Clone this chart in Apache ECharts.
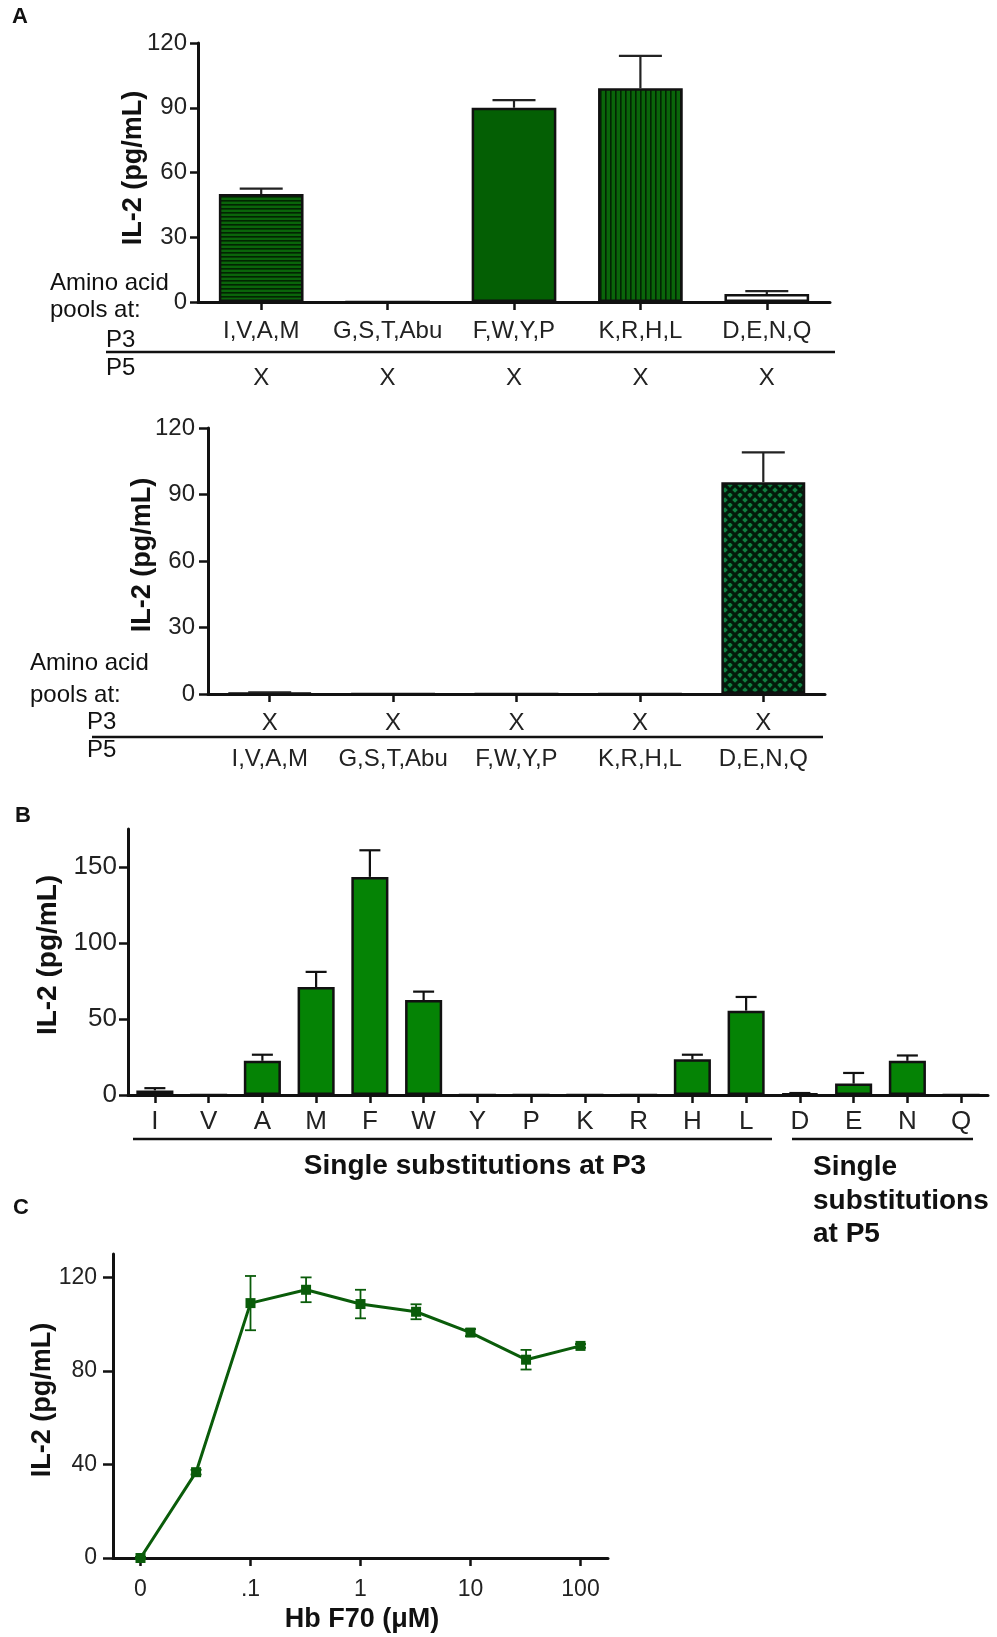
<!DOCTYPE html>
<html><head><meta charset="utf-8">
<script src="https://cdn.jsdelivr.net/npm/echarts@6/dist/echarts.min.js"></script>
<style>html,body{margin:0;padding:0;background:#fff}#c{width:997px;height:1637px}</style>
</head><body><div id="c"></div>
<script>
// ---------- DATA ----------
const aPoolLabels = ['I,V,A,M', 'G,S,T,Abu', 'F,W,Y,P', 'K,R,H,L', 'D,E,N,Q'];
const aXMarks = ['X', 'X', 'X', 'X', 'X'];
const aTopValues = [50, 0, 90, 99, 3.7];
const aTopErrors = [2.5, 0, 3.5, 15, 1.3];
const aBottomValues = [0.5, 0, 0, 0, 95.5];
const aBottomErrors = [0.3, 0, 0, 0, 13.5];
const aYTicks = [0, 30, 60, 90, 120];

const bCategories = ['I', 'V', 'A', 'M', 'F', 'W', 'Y', 'P', 'K', 'R', 'H', 'L', 'D', 'E', 'N', 'Q'];
const bValues = [3, 0, 22.5, 71, 143.5, 62.5, 0, 0, 0, 0, 23.5, 55.5, 1, 7.5, 22.5, 0];
const bErrors = [1.5, 0, 4, 10, 17.5, 5.5, 0, 0, 0, 0, 3, 9, 0.3, 7, 3.5, 0];
const bYTicks = [0, 50, 100, 150];

const cConcentrations = [0, 0.032, 0.1, 0.32, 1, 3.2, 10, 32, 100];
const cValues = [0, 36.7, 109, 114.7, 108.6, 105.3, 96.4, 84.8, 90.7];
const cErrors = [0.5, 1, 11.6, 5.3, 6.1, 3.2, 1.5, 4.2, 0.8];
const cTickConcentrations = [0, 0.1, 1, 10, 100];
const cTickLabels = ['0', '.1', '1', '10', '100'];
const cYTicks = [0, 40, 80, 120];

// ---------- STYLE HELPERS ----------
const FONT = '"Liberation Sans", Arial, Helvetica, sans-serif';
const INK = '#111';
function makePattern(w, h, draw) {
  const c = document.createElement('canvas'); c.width = w; c.height = h;
  const g = c.getContext('2d'); draw(g, w, h);
  return { image: c, repeat: 'repeat' };
}
const hStripe = makePattern(8, 4, (g, w, h) => { g.fillStyle = '#0a650a'; g.fillRect(0, 0, w, h); g.fillStyle = '#022402'; g.fillRect(0, 0, w, 1.6); });
const vStripe = makePattern(5, 8, (g, w, h) => { g.fillStyle = '#0a650a'; g.fillRect(0, 0, w, h); g.fillStyle = '#022402'; g.fillRect(0, 0, 1.6, h); });
const crossHatch = makePattern(10, 10, (g, w, h) => {
  g.fillStyle = '#108040'; g.fillRect(0, 0, w, h);
  g.strokeStyle = '#031a0a'; g.lineWidth = 3.2;
  for (let k = -2; k <= 2; k++) {
    g.beginPath(); g.moveTo(k * 10, 0); g.lineTo(k * 10 + 10, 10); g.stroke();
    g.beginPath(); g.moveTo(k * 10 + 10, 0); g.lineTo(k * 10, 10); g.stroke();
  }
});
const solidDark = '#045f04';
const bGreen = '#058305';
const cGreen = '#0a5c0a';
const barBorder = { borderColor: INK, borderWidth: 2.5 };
const aTopStyles = [
  Object.assign({ color: hStripe }, barBorder),
  Object.assign({ color: solidDark }, barBorder),
  Object.assign({ color: solidDark }, barBorder),
  Object.assign({ color: vStripe }, barBorder),
  Object.assign({ color: '#ffffff' }, barBorder)
];
const aBottomStyles = [
  Object.assign({ color: crossHatch }, barBorder),
  Object.assign({ color: crossHatch }, barBorder),
  Object.assign({ color: crossHatch }, barBorder),
  Object.assign({ color: crossHatch }, barBorder),
  Object.assign({ color: crossHatch }, barBorder)
];

function logPos(c) { return c === 0 ? -2 : Math.log10(c); }

function errSeries(xi, yi, xs, vals, errs, cap, color, lw, both) {
  return {
    type: 'custom', xAxisIndex: xi, yAxisIndex: yi, z: 6, silent: true,
    data: vals.map((v, i) => [xs[i], v, errs[i]]),
    renderItem: function (params, api) {
      const x = api.value(0), v = api.value(1), e = api.value(2);
      if (!(e > 0)) return { type: 'group', children: [] };
      const p0 = api.coord([x, both ? v - e : v]);
      const p1 = api.coord([x, v + e]);
      const st = { stroke: color, lineWidth: lw };
      const ch = [
        { type: 'line', shape: { x1: p0[0], y1: p0[1], x2: p1[0], y2: p1[1] }, style: st },
        { type: 'line', shape: { x1: p1[0] - cap / 2, y1: p1[1], x2: p1[0] + cap / 2, y2: p1[1] }, style: st }
      ];
      if (both) ch.push({ type: 'line', shape: { x1: p0[0] - cap / 2, y1: p0[1], x2: p0[0] + cap / 2, y2: p0[1] }, style: st });
      return { type: 'group', children: ch };
    }
  };
}

function catAxis(grid, data, fs, margin, extra) {
  return Object.assign({
    type: 'category', gridIndex: grid, data: data, position: 'bottom', dedplication: false,
    axisLine: { show: true, onZero: false, lineStyle: { color: INK, width: 3 } },
    axisTick: { show: true, alignWithLabel: true, length: 8, lineStyle: { color: INK, width: 2.5 } },
    axisLabel: { interval: 0, margin: margin, fontSize: fs, fontFamily: FONT, color: '#222' },
    splitLine: { show: false }
  }, extra || {});
}
function labelOnlyAxis(grid, data, fs, offset, margin) {
  return {
    type: 'category', gridIndex: grid, data: data, position: 'bottom', offset: offset, dedplication: false,
    axisLine: { show: false, onZero: false }, axisTick: { show: false }, splitLine: { show: false },
    axisLabel: { interval: 0, margin: margin, fontSize: fs, fontFamily: FONT, color: '#222' }
  };
}
function valAxis(grid, max, ticks, fs, margin, tickLen) {
  return {
    type: 'value', gridIndex: grid, min: 0, max: max, position: 'left',
    axisLine: { show: true, onZero: false, lineStyle: { color: INK, width: 3 } },
    axisTick: { show: true, length: tickLen, customValues: ticks, lineStyle: { color: INK, width: 2.5 } },
    axisLabel: { margin: margin, fontSize: fs, fontFamily: FONT, color: '#222', customValues: ticks },
    splitLine: { show: false }
  };
}

function txt(x, y, text, size, bold, align, rot) {
  return {
    type: 'text', x: x, y: y, rotation: rot || 0, z: 10, silent: true,
    style: {
      text: text, font: (bold ? 'bold ' : '') + size + 'px ' + FONT, fill: INK,
      align: align || 'left', textAlign: align || 'left', verticalAlign: 'middle', textVerticalAlign: 'middle'
    }
  };
}
function hline(x1, x2, y) {
  return { type: 'line', z: 10, silent: true, shape: { x1: x1, y1: y, x2: x2, y2: y }, style: { stroke: INK, lineWidth: 2.5 } };
}

const idx5 = [0, 1, 2, 3, 4];
const idx16 = bCategories.map((c, i) => i);
const cX = cConcentrations.map(logPos);
const cTickPos = cTickConcentrations.map(logPos);

const option = {
  animation: false,
  backgroundColor: '#fff',
  grid: [
    { left: 198, top: 43, width: 632, height: 259 },
    { left: 208, top: 428, width: 617, height: 266 },
    { left: 128, top: 829, width: 860, height: 266 },
    { left: 113, top: 1254, width: 495, height: 304 }
  ],
  xAxis: [
    catAxis(0, aPoolLabels, 24, 17),
    labelOnlyAxis(0, aXMarks, 24, 55, 9),
    catAxis(1, aXMarks, 24, 17),
    labelOnlyAxis(1, aPoolLabels, 24, 50, 3),
    catAxis(2, bCategories, 26, 14),
    {
      type: 'value', gridIndex: 3, min: -2.25, max: 2.25, position: 'bottom',
      axisLine: { show: true, onZero: false, lineStyle: { color: INK, width: 3 } },
      axisTick: { show: true, length: 8, customValues: cTickPos, lineStyle: { color: INK, width: 2.5 } },
      axisLabel: {
        margin: 20, fontSize: 23, fontFamily: FONT, color: '#222', customValues: cTickPos,
        formatter: function (v) {
          let best = 0;
          cTickPos.forEach((p, i) => { if (Math.abs(p - v) < Math.abs(cTickPos[best] - v)) best = i; });
          return cTickLabels[best];
        }
      },
      splitLine: { show: false }
    }
  ],
  yAxis: [
    valAxis(0, 120, aYTicks, 24, 11, 8),
    valAxis(1, 120, aYTicks, 24, 13, 9),
    valAxis(2, 175, bYTicks, 26, 11, 9),
    valAxis(3, 130, cYTicks, 23, 16, 10)
  ],
  series: [
    { type: 'bar', xAxisIndex: 0, yAxisIndex: 0, barWidth: '67%', z: 3,
      data: aTopValues.map((v, i) => ({ value: v, itemStyle: aTopStyles[i] })) },
    errSeries(0, 0, idx5, aTopValues, aTopErrors, 43, '#222', 2.2, false),
    { type: 'bar', xAxisIndex: 2, yAxisIndex: 1, barWidth: '68%', z: 3,
      data: aBottomValues.map((v, i) => ({ value: v, itemStyle: aBottomStyles[i] })) },
    errSeries(2, 1, idx5, aBottomValues, aBottomErrors, 43, '#222', 2.2, false),
    { type: 'bar', xAxisIndex: 4, yAxisIndex: 2, barWidth: '69%', z: 3,
      itemStyle: { color: bGreen, borderColor: INK, borderWidth: 2.5 },
      data: bValues },
    errSeries(4, 2, idx16, bValues, bErrors, 21, '#111', 2.2, false),
    { type: 'line', xAxisIndex: 5, yAxisIndex: 3, z: 4,
      symbol: 'rect', symbolSize: 10,
      lineStyle: { color: cGreen, width: 3 }, itemStyle: { color: cGreen },
      data: cValues.map((v, i) => [cX[i], v]) },
    errSeries(5, 3, cX, cValues, cErrors, 11, cGreen, 1.8, true)
  ],
  graphic: [
    txt(20, 17, 'A', 22, true, 'center'),
    txt(134, 168, 'IL-2 (pg/mL)', 27, true, 'center', Math.PI / 2),
    txt(50, 283, 'Amino acid', 24, false),
    txt(50, 310, 'pools at:', 24, false),
    txt(106, 340, 'P3', 24, false),
    hline(106, 835, 352),
    txt(106, 368, 'P5', 24, false),

    txt(143, 555, 'IL-2 (pg/mL)', 27, true, 'center', Math.PI / 2),
    txt(30, 663, 'Amino acid', 24, false),
    txt(30, 695, 'pools at:', 24, false),
    txt(87, 722, 'P3', 24, false),
    hline(92, 823, 737),
    txt(87, 750, 'P5', 24, false),

    txt(23, 816, 'B', 22, true, 'center'),
    txt(48, 955, 'IL-2 (pg/mL)', 28, true, 'center', Math.PI / 2),
    hline(133, 772, 1139),
    hline(792, 973, 1139),
    txt(475, 1166, 'Single substitutions at P3', 28, true, 'center'),
    txt(813, 1167, 'Single', 28, true),
    txt(813, 1201, 'substitutions', 28, true),
    txt(813, 1234, 'at P5', 28, true),

    txt(21, 1208, 'C', 22, true, 'center'),
    txt(43, 1400, 'IL-2 (pg/mL)', 27, true, 'center', Math.PI / 2),
    txt(362, 1620, 'Hb F70 (\u03bcM)', 27, true, 'center')
  ]
};

const chart = echarts.init(document.getElementById('c'), null, { renderer: 'canvas', width: 997, height: 1637 });
chart.setOption(option);
</script>
</body></html>
